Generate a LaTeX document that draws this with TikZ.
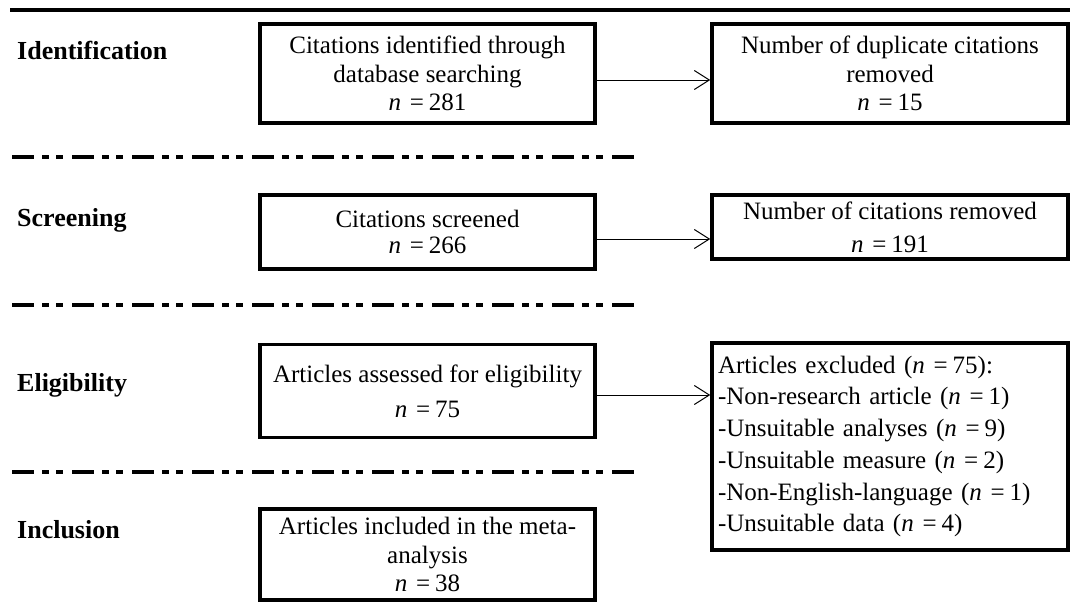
\documentclass[tikz,border=0pt]{standalone}
\usepackage{fontspec}
\setmainfont{Liberation Serif}
\usepackage{tikz}
\usetikzlibrary{arrows.meta}
\colorlet{penColor}{black}
\tikzset{>={Straight Barb[length=15pt,width=19pt]},
  box/.style={draw=penColor,line width=3.5pt,inner sep=0pt,align=center,
    font=\fontsize{25}{28.5}\selectfont},
  stage/.style={anchor=west,inner sep=0pt,font=\fontsize{26}{30}\selectfont\bfseries},
  flow/.style={->,penColor,line width=1pt},
  stageline/.style={penColor,line width=3.5pt,
    dash pattern=on 22pt off 8pt on 7pt off 7pt on 7pt off 9pt}}
\newcommand{\ncount}[1]{\textit{n}\hspace{.35em}=\hspace{.2em}#1}

\begin{document}
\begin{tikzpicture}[x=1pt,y=-1pt]
    \useasboundingbox (0,0) rectangle (1070,610);
    \draw[penColor,line width=4pt] (10,10) -- (1070,10);
    \foreach \y in {157,305,472}
      \draw[stageline] (12,\y) -- (637,\y);

    \node[stage] (S1) at (17,50) {Identification};
    \node[stage] (S2) at (17,220) {Screening};
    \node[stage] (S3) at (17,385) {Eligibility};
    \node[stage] (S4) at (17,530) {Inclusion};

    \node[box,minimum width=335pt,minimum height=99pt] (L1) at (427.5,73.5)
      {Citations identified through\\database searching\\\ncount{281}};
    \node[box,minimum width=356pt,minimum height=99pt] (R1) at (890,73.5)
      {Number of duplicate citations\\removed\\\ncount{15}};

    \node[box,minimum width=335pt,minimum height=74pt,
      font=\fontsize{25}{26.5}\selectfont] (L2) at (427.5,232)
      {Citations screened\\\ncount{266}};
    \node[box,minimum width=356pt,minimum height=64pt,
      font=\fontsize{25}{33}\selectfont] (R2) at (890,227)
      {Number of citations removed\\\ncount{191}};

    \node[box,minimum width=335pt,minimum height=93pt,
      font=\fontsize{25}{35}\selectfont] (L3) at (427.5,391)
      {Articles assessed for eligibility\\\ncount{75}};
    \node[box,text width=344pt,inner xsep=6pt,minimum height=207pt,align=left,
      font=\fontsize{25}{31.7}\selectfont] (R3) at (890,446.5)
      {Articles excluded (\ncount{75}):\\
       -Non-research article (\ncount{1})\\
       -Unsuitable analyses (\ncount{9})\\
       -Unsuitable measure (\ncount{2})\\
       -Non-English-language (\ncount{1})\\
       -Unsuitable data (\ncount{4})};

    \node[box,minimum width=335pt,minimum height=91pt] (L4) at (427.5,554.5)
      {Articles included in the meta-\\analysis\\\ncount{38}};

    \draw[flow] ([yshift=-6.5pt]L1.east) -- ([yshift=-6.5pt]L1.east -| R1.west);
    \draw[flow] ([yshift=-7pt]L2.east) -- ([yshift=-7pt]L2.east -| R2.west);
    \draw[flow] ([yshift=-4pt]L3.east) -- ([yshift=-4pt]L3.east -| R3.west);
\end{tikzpicture}
\end{document}
